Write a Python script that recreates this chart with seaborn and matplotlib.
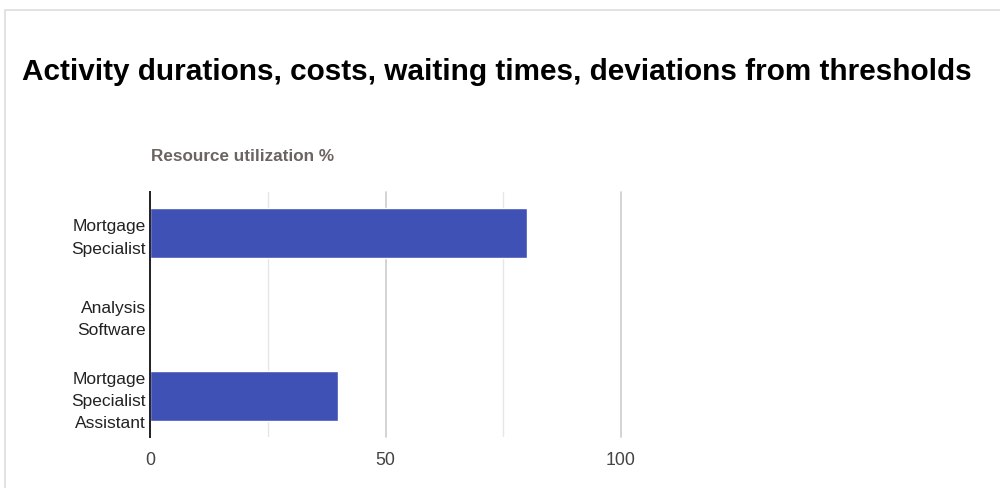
import matplotlib
matplotlib.use("Agg")
import matplotlib.pyplot as plt
import seaborn as sns
import pandas as pd
from matplotlib.patches import Rectangle

resources = ["Mortgage\nSpecialist", "Analysis\nSoftware", "Mortgage\nSpecialist\nAssistant"]
utilization = [80, 0, 40]
x_ticks = [0, 50, 100]
x_minor = [25, 75]

title = "Activity durations, costs, waiting times, deviations from thresholds"
subtitle = "Resource utilization %"

sns.set_theme(style="white")
plt.rcParams['font.family'] = ['Liberation Sans', 'DejaVu Sans']

df = pd.DataFrame({"resource": resources, "value": utilization})

fig = plt.figure(figsize=(10, 4.88), dpi=100)
ax = fig.add_axes([0.15, 0.1045, 0.471, 0.502])

sns.barplot(data=df, y="resource", x="value", orient="h", color="#3f51b5",
            saturation=1, width=0.62, ax=ax, zorder=3)

ax.set_xlim(0, 100)
ax.set_ylim(2.5, -0.5)
ax.set_xticks(x_ticks)
ax.set_xticks(x_minor, minor=True)
ax.grid(axis="x", which="major", color="#cccccc", linewidth=1.2, zorder=0)
ax.grid(axis="x", which="minor", color="#e6e6e6", linewidth=1, zorder=0)
for gl in ax.xaxis.get_gridlines():
    gl.set_clip_on(False)
ax.set_axisbelow(True)
ax.set_xlabel("")
ax.set_ylabel("")
for s in ["top", "right", "bottom"]:
    ax.spines[s].set_visible(False)
ax.spines["left"].set_color("#222222")
ax.spines["left"].set_linewidth(1.4)
ax.spines["left"].set_zorder(5)
ax.tick_params(axis="both", which="both", length=0)
ax.tick_params(axis="y", labelsize=12.5, labelcolor="#222222", pad=3)
ax.tick_params(axis="x", labelsize=12.8, labelcolor="#444444", pad=11)
for lbl in ax.get_yticklabels():
    lbl.set_horizontalalignment("right")
    lbl.set_multialignment("right")
    lbl.set_linespacing(1.6)

fig.text(0.022, 1 - 80/488, title, fontsize=21.4, fontweight="bold", color="#000000",
         ha="left", va="baseline")
fig.text(0.151, 1 - 161/488, subtitle, fontsize=12.3, fontweight="bold", color="#6b6460",
         ha="left", va="baseline")

# card border
fig.patches.append(Rectangle((0.005, -0.02), 1.2, 1 - 0.005 - 8/488 + 0.02,
                             transform=fig.transFigure, fill=False,
                             edgecolor="#dddddd", linewidth=1.2, zorder=0))

fig.savefig("out.png", dpi=100)
